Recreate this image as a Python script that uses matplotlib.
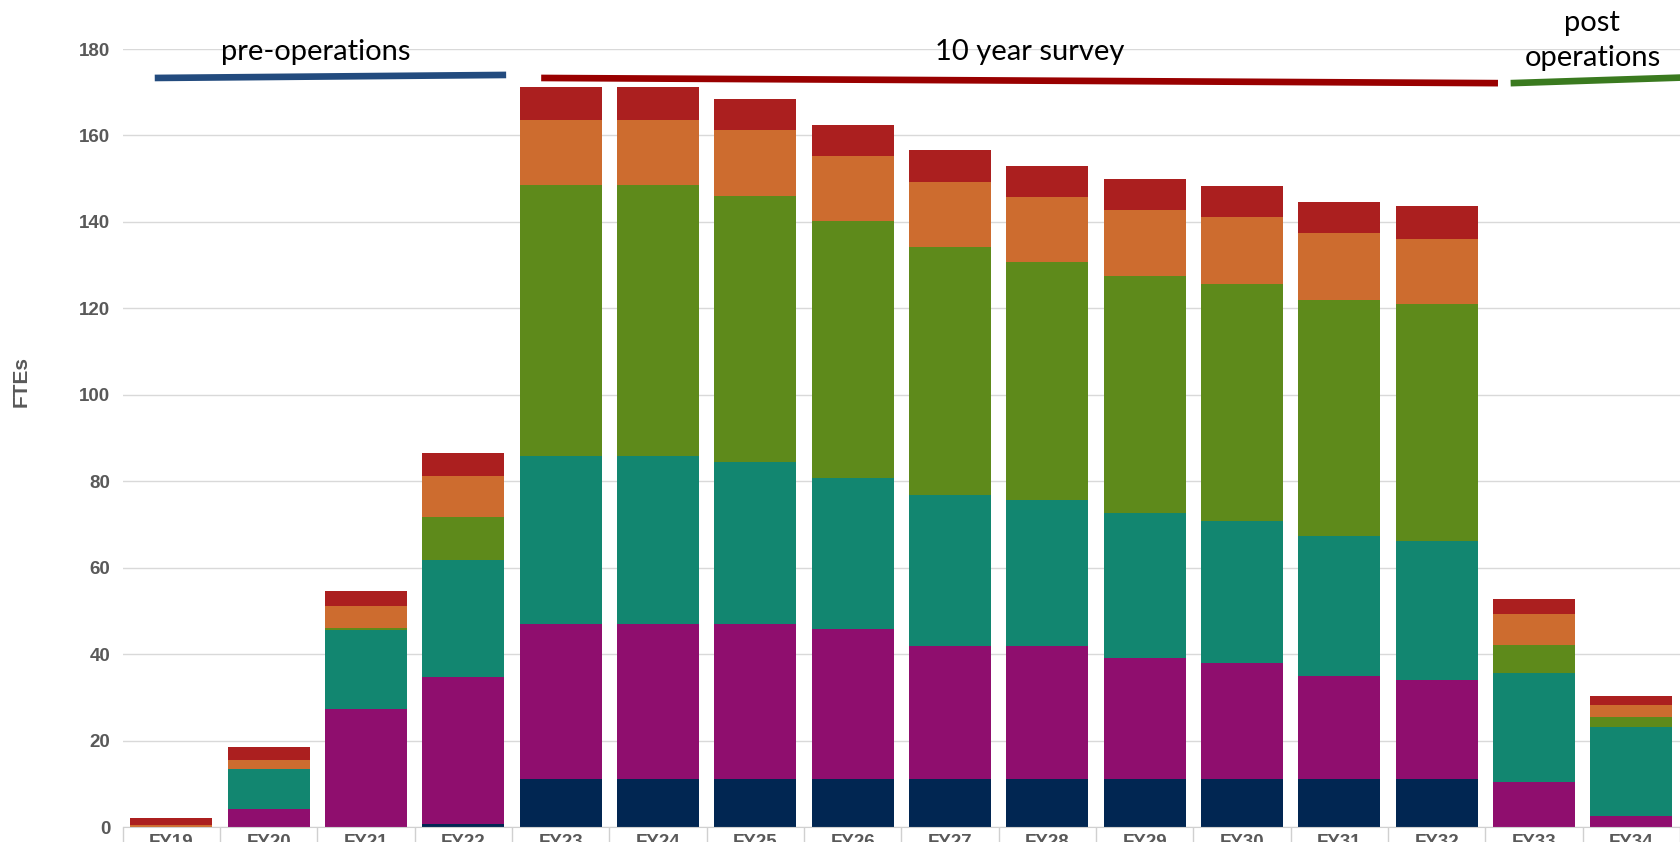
import numpy as np
import matplotlib
matplotlib.use("Agg")
import matplotlib.pyplot as plt

years = ["FY19", "FY20", "FY21", "FY22", "FY23", "FY24", "FY25", "FY26",
         "FY27", "FY28", "FY29", "FY30", "FY31", "FY32", "FY33", "FY34"]

# stacked FTE components, bottom to top
navy   = [0, 0, 0, 0.8, 11, 11, 11, 11, 11, 11, 11, 11, 11, 11, 0, 0]
purple = [0, 4.2, 27.3, 34.0, 36.0, 36.0, 36.0, 34.9, 30.9, 30.9, 28.2, 26.9, 24.0, 23.0, 10.3, 2.5]
teal   = [0, 9.2, 18.3, 26.9, 38.8, 38.8, 37.4, 34.9, 35.0, 33.7, 33.5, 33.0, 32.4, 32.2, 25.4, 20.7]
green  = [0, 0, 0.4, 10.0, 62.7, 62.7, 61.7, 59.3, 57.2, 55.1, 54.7, 54.8, 54.6, 54.8, 6.5, 2.3]
orange = [0.4, 2.1, 5.2, 9.6, 15.1, 15.1, 15.2, 15.1, 15.2, 15.1, 15.4, 15.4, 15.4, 15.1, 7.0, 2.8]
red    = [1.8, 3.1, 3.5, 5.2, 7.5, 7.5, 7.2, 7.2, 7.4, 7.2, 7.2, 7.2, 7.2, 7.5, 3.5, 2.1]

series = [navy, purple, teal, green, orange, red]
colors = ["#012652", "#8f0e6e", "#128670", "#5e8a1b", "#cd6c2f", "#ab1f1f"]

# phase bars drawn over the chart (category units, FTE level)
phase_names = ["pre-operations", "10 year survey", "post\noperations"]
phase_x0 = [-0.17, 3.80, 13.76]
phase_x1 = [3.44, 13.63, 15.8]
phase_y0 = [173.3, 173.3, 172.1]
phase_y1 = [174.0, 172.1, 173.6]
phase_colors = ["#234b7e", "#990000", "#3a7a1f"]
label_x = [1.48, 8.82, 14.6]
label_y = [179.4, 179.4, 182.0]

fig = plt.figure(figsize=(16.8, 8.42), dpi=100)
ax = fig.add_axes([0.073, 0.0178, 0.927, 0.924])

x = np.arange(len(years))
bottom = np.zeros(len(years))
for vals, c in zip(series, colors):
    ax.bar(x, vals, width=0.845, bottom=bottom, color=c, zorder=2)
    bottom += np.array(vals)

ax.set_xlim(-0.5, 15.33)
ax.set_ylim(0, 180)
ax.set_yticks(np.arange(0, 181, 20))
ax.grid(axis="y", color="#d9d9d9", linewidth=1, zorder=0)
ax.set_axisbelow(True)

for s in ["top", "right", "left"]:
    ax.spines[s].set_visible(False)
ax.spines["bottom"].set_color("#d0d0d0")

ax.set_xticks(x)
ax.set_xticklabels(years)
ax.set_xticks(np.arange(-0.5, 16, 1), minor=True)
ax.tick_params(axis="x", which="major", length=0, pad=5, labelsize=13.5, labelcolor="#595959")
ax.tick_params(axis="x", which="minor", length=20, color="#d0d0d0", width=1)
ax.tick_params(axis="y", length=0, pad=9, labelsize=13.5, labelcolor="#595959")
for lab in ax.get_xticklabels() + ax.get_yticklabels():
    lab.set_fontweight("bold")
    lab.set_family("Liberation Sans")

fig.text(21 / 1680, 1 - 381 / 842, "FTEs", rotation=90, ha="center", va="center",
         fontsize=15, fontweight="bold", color="#595959", family="Liberation Sans")

for i in range(len(phase_names)):
    ax.plot([phase_x0[i], phase_x1[i]], [phase_y0[i], phase_y1[i]], color=phase_colors[i],
            linewidth=4.8, solid_capstyle="butt", clip_on=False, zorder=3)
    ax.text(label_x[i], label_y[i], phase_names[i], ha="center", va="center",
            fontsize=21, family="Lato", color="black", linespacing=1.4, zorder=4)

fig.savefig("out.png", dpi=100)
